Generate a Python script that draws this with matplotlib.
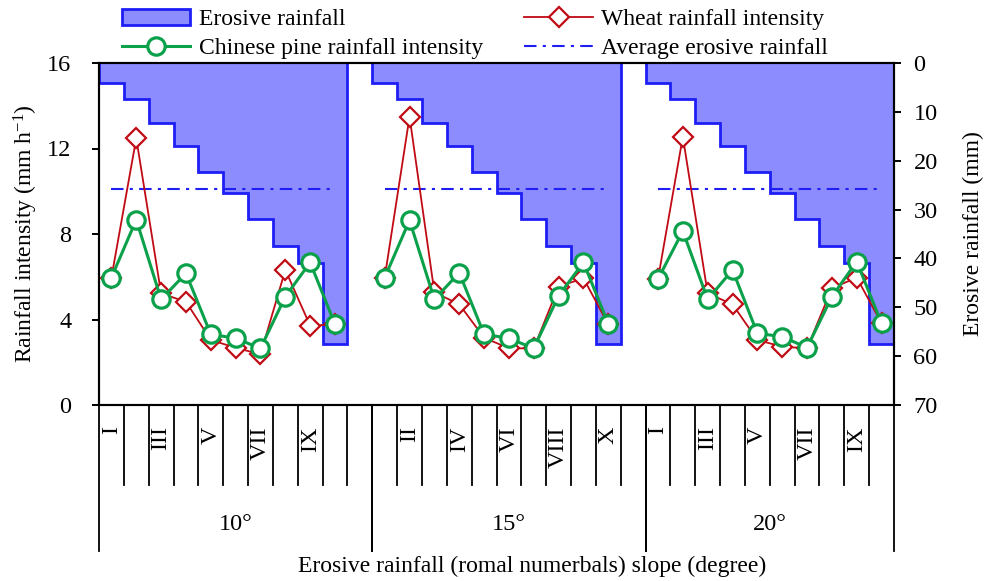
import numpy as np
import matplotlib.pyplot as plt
from matplotlib.transforms import blended_transform_factory

plt.rcParams['font.family'] = ['Liberation Serif', 'DejaVu Serif']
plt.rcParams['mathtext.default'] = 'regular'
plt.rcParams['font.size'] = 17

# slope groups and the number of slots each one takes on the x axis
slopes = ['10°', '15°', '20°']
group_slots = [11, 11, 10]
# roman labels that are printed under each group (every other one)
shown_10 = ['I', '', 'III', '', 'V', '', 'VII', '', 'IX', '', '']
shown_15 = ['', 'II', '', 'IV', '', 'VI', '', 'VIII', '', 'X', '']
shown_20 = ['I', '', 'III', '', 'V', '', 'VII', '', 'IX', '']

# erosive rainfall events I..X (mm), same events on every slope
erosive = [4.0, 7.4, 12.3, 16.9, 22.4, 26.7, 31.9, 37.4, 41.0, 57.6]
avg_erosive = 25.8

# rainfall intensity (mm h-1)
wheat_10 = [5.96, 12.48, 5.22, 4.83, 3.04, 2.68, 2.37, 6.32, 3.71, 3.77]
pine_10 = [5.96, 8.67, 4.94, 6.16, 3.31, 3.12, 2.65, 5.07, 6.67, 3.77]
wheat_15 = [5.96, 13.49, 5.27, 4.71, 3.15, 2.65, 2.65, 5.54, 5.93, 3.77]
pine_15 = [5.96, 8.64, 4.94, 6.19, 3.31, 3.12, 2.65, 5.11, 6.67, 3.80]
wheat_20 = [5.89, 12.55, 5.22, 4.71, 3.04, 2.73, 2.65, 5.46, 5.96, 3.82]
pine_20 = [5.89, 8.14, 4.94, 6.32, 3.35, 3.20, 2.68, 5.07, 6.71, 3.82]

wheat = [wheat_10, wheat_15, wheat_20]
pine = [pine_10, pine_15, pine_20]
shown = [shown_10, shown_15, shown_20]

red = '#C00A14'
green = '#0BA14B'
blue = '#1E1EF5'

fig = plt.figure(figsize=(9.93, 5.81), dpi=100)
ax = fig.add_axes([99/993, 1-405/581, 795/993, 342/581])
ax2 = ax.twinx()
ax.set_zorder(ax2.get_zorder() + 1)
ax.patch.set_visible(False)

starts = np.concatenate([[0], np.cumsum(group_slots)[:-1]])
n_ev = len(erosive)
for g in range(len(slopes)):
    x = starts[g] + np.arange(n_ev)
    edges = starts[g] + np.arange(n_ev + 1) - 0.5
    h_bar = ax2.stairs(erosive, edges, baseline=0, fill=True,
                       facecolor='#8C8CFF', edgecolor=blue, lw=2,
                       label='Erosive rainfall')
    h_avg, = ax2.plot([x[0], x[-1]], [avg_erosive, avg_erosive], color=blue,
                      lw=1.5, ls=(0, (6, 3, 1.5, 3)),
                      label='Average erosive rainfall')
    h_wheat, = ax.plot(x, wheat[g], color=red, lw=1.3, marker='D', ms=10,
                       mfc='white', mec=red, mew=1.6,
                       label='Wheat rainfall intensity')
    h_pine, = ax.plot(x, pine[g], color=green, lw=2.2, marker='o', ms=12.5,
                      mfc='white', mec=green, mew=2.3,
                      label='Chinese pine rainfall intensity')

total = sum(group_slots)
ax.set_xlim(-0.5, total - 0.5)
ax.set_ylim(0, 16)
ax.set_yticks([0, 4, 8, 12, 16])
ax2.set_ylim(70, 0)
ax2.set_yticks(np.arange(0, 71, 10))
ax.set_xticks([])
for a in (ax, ax2):
    for s in a.spines.values():
        s.set_linewidth(1.5)
    a.tick_params(direction='out', length=5, width=1.4, labelsize=17.5)
ax.tick_params(axis='y', pad=15)
ax2.tick_params(axis='y', pad=9)
ax.set_ylabel('Rainfall intensity (mm h$^{-1}$)', fontsize=17, labelpad=5)
ax2.set_ylabel('Erosive rainfall (mm)', fontsize=17, labelpad=18)

# two-level category axis drawn below the plot
tr = blended_transform_factory(ax.transData, ax.transAxes)
for g in range(len(slopes)):
    for k in range(group_slots[g] + 1):
        b = starts[g] + k - 0.5
        long_line = k == 0 or k == group_slots[g]
        ax.plot([b, b], [0, -0.427 if long_line else -0.234], color='k',
                lw=1.3, transform=tr, clip_on=False)
    for k, lab in enumerate(shown[g]):
        if lab:
            ax.text(starts[g] + k, -0.062, lab, rotation=90, ha='center',
                    va='top', transform=tr, fontsize=17.5)
    ax.text(starts[g] + (group_slots[g] - 1) / 2, -0.35, slopes[g],
            ha='center', va='center', transform=tr, fontsize=17.5)

fig.text(532/993, 1 - 566/581, 'Erosive rainfall (romal numerbals) slope (degree)',
         ha='center', va='center', fontsize=17)

fig.legend([h_bar, h_pine, h_wheat, h_avg],
           [h_bar.get_label(), h_pine.get_label(), h_wheat.get_label(),
            h_avg.get_label()],
           ncol=2, loc='upper left', bbox_to_anchor=(122/993, 0.985),
           frameon=False, borderpad=0, borderaxespad=0, handlelength=2.9,
           handletextpad=0.35, columnspacing=1.75, labelspacing=0.3,
           fontsize=17)

fig.savefig('out.png', dpi=100)
